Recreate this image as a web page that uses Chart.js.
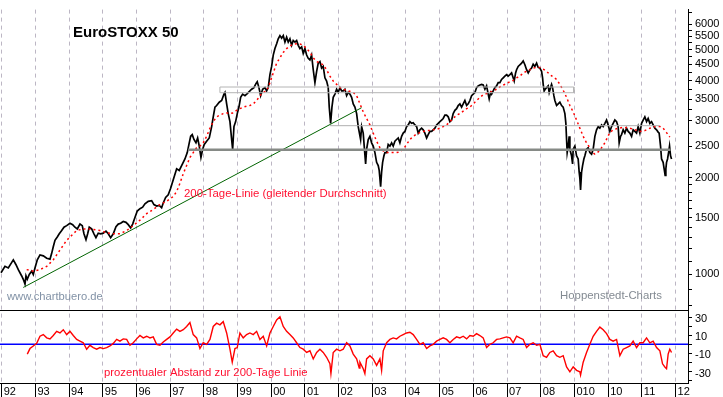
<!DOCTYPE html>
<html>
<head>
<meta charset="utf-8">
<title>EuroSTOXX 50</title>
<script src="https://cdn.jsdelivr.net/npm/chart.js@4.4.1/dist/chart.umd.min.js"></script>
<style>
  html, body { margin: 0; padding: 0; background: #fff; }
  #wrap { position: relative; width: 723px; height: 397px; }
</style>
</head>
<body>
<div id="wrap"><canvas id="chart"></canvas></div>
<script>
// --- data: [decimal year, value] ---
const pricePoints = [
  [1991.980,1012],[1992.098,1060],[1992.196,1048],[1992.345,1110],[1992.425,1072],[1992.493,1035],
  [1992.594,989],[1992.641,966],[1992.692,933],[1992.721,990],[1992.760,966],[1992.819,1000],
  [1992.891,1024],[1992.938,1000],[1992.988,1048],[1993.057,1110],[1993.137,1150],[1993.235,1142],
  [1993.336,1123],[1993.434,1116],[1993.484,1163],[1993.531,1219],[1993.582,1277],[1993.650,1307],
  [1993.709,1338],[1993.781,1369],[1993.849,1402],[1993.929,1418],[1994.027,1442],[1994.107,1428],
  [1994.175,1402],[1994.244,1385],[1994.324,1434],[1994.392,1418],[1994.442,1338],[1994.502,1283],
  [1994.552,1338],[1994.599,1402],[1994.671,1385],[1994.739,1338],[1994.798,1301],[1994.867,1344],
  [1994.938,1338],[1995.015,1344],[1995.095,1363],[1995.163,1338],[1995.234,1301],[1995.312,1338],
  [1995.392,1408],[1995.460,1434],[1995.531,1442],[1995.608,1461],[1995.689,1452],[1995.757,1428],
  [1995.828,1395],[1995.887,1434],[1995.955,1503],[1996.024,1574],[1996.104,1601],[1996.184,1618],
  [1996.252,1657],[1996.350,1688],[1996.451,1696],[1996.519,1649],[1996.599,1632],[1996.676,1640],
  [1996.747,1612],[1996.795,1668],[1996.866,1735],[1996.943,1768],[1997.015,1853],[1997.074,1941],
  [1997.193,2130],[1997.270,2105],[1997.341,2180],[1997.439,2285],[1997.508,2392],[1997.567,2565],
  [1997.609,2688],[1997.656,2720],[1997.707,2627],[1997.766,2565],[1997.816,2656],[1997.864,2506],
  [1997.914,2310],[1997.965,2449],[1998.012,2536],[1998.083,2596],[1998.161,2656],[1998.232,2882],
  [1998.279,3090],[1998.330,3313],[1998.380,3350],[1998.457,3431],[1998.529,3472],[1998.597,3635],
  [1998.627,3679],[1998.677,3390],[1998.724,3162],[1998.775,2985],[1998.825,2627],[1998.855,2449],
  [1998.894,2882],[1998.944,2985],[1998.992,3162],[1999.042,3313],[1999.092,3552],[1999.152,3635],
  [1999.220,3595],[1999.288,3650],[1999.368,3722],[1999.419,3764],[1999.487,3809],[1999.546,3917],
  [1999.585,3972],[1999.635,3809],[1999.686,3595],[1999.745,3764],[1999.814,3809],[1999.864,3722],
  [1999.911,3809],[1999.962,4180],[2000.012,4433],[2000.060,4807],[2000.110,5037],[2000.161,5215],
  [2000.208,5400],[2000.259,5526],[2000.309,5426],[2000.357,5526],[2000.407,5277],[2000.457,5464],
  [2000.505,5277],[2000.555,5400],[2000.606,5154],[2000.653,5337],[2000.704,5277],[2000.754,5337],
  [2000.802,5154],[2000.852,5037],[2000.903,5098],[2000.950,4864],[2001.000,5037],[2001.051,4807],
  [2001.098,4696],[2001.149,4641],[2001.199,4807],[2001.247,4328],[2001.297,3945],[2001.348,4280],
  [2001.395,4536],[2001.446,4590],[2001.496,4380],[2001.543,4433],[2001.594,4085],[2001.644,3992],
  [2001.692,3809],[2001.722,3313],[2001.763,2949],[2001.802,3313],[2001.840,3552],[2001.891,3635],
  [2001.941,3764],[2001.989,3679],[2002.039,3809],[2002.089,3722],[2002.137,3722],[2002.187,3764],
  [2002.238,3595],[2002.285,3679],[2002.336,3635],[2002.386,3552],[2002.434,3390],[2002.484,3313],
  [2002.535,3162],[2002.582,2882],[2002.653,2627],[2002.683,2882],[2002.730,2750],[2002.760,2506],
  [2002.802,2206],[2002.831,2449],[2002.879,2627],[2002.929,2688],[2002.980,2565],[2003.027,2506],
  [2003.078,2392],[2003.128,2231],[2003.176,2180],[2003.205,2105],[2003.247,1874],[2003.276,2080],
  [2003.306,2231],[2003.345,2338],[2003.374,2392],[2003.425,2392],[2003.472,2536],[2003.523,2506],
  [2003.573,2565],[2003.621,2506],[2003.671,2596],[2003.721,2627],[2003.769,2656],[2003.819,2565],
  [2003.870,2688],[2003.917,2750],[2003.968,2783],[2004.018,2882],[2004.066,2916],[2004.116,2985],
  [2004.167,2949],[2004.214,2963],[2004.265,2916],[2004.315,2882],[2004.362,2750],[2004.413,2816],
  [2004.463,2848],[2004.511,2816],[2004.561,2750],[2004.612,2656],[2004.659,2720],[2004.710,2783],
  [2004.760,2783],[2004.808,2816],[2004.858,2848],[2004.908,2916],[2004.956,2949],[2005.006,2985],
  [2005.057,3020],[2005.104,3053],[2005.155,3127],[2005.205,3127],[2005.253,3090],[2005.303,2985],
  [2005.354,3020],[2005.401,3162],[2005.451,3237],[2005.502,3275],[2005.549,3350],[2005.600,3390],
  [2005.650,3313],[2005.698,3390],[2005.748,3472],[2005.799,3350],[2005.846,3390],[2005.897,3472],
  [2005.947,3595],[2005.995,3635],[2006.045,3679],[2006.095,3809],[2006.143,3855],[2006.193,3880],
  [2006.244,3898],[2006.291,3880],[2006.342,3764],[2006.392,3855],[2006.440,3635],[2006.469,3511],
  [2006.511,3679],[2006.541,3635],[2006.588,3722],[2006.638,3809],[2006.689,3855],[2006.736,3945],
  [2006.787,3945],[2006.837,4038],[2006.885,4085],[2006.935,4134],[2006.986,4180],[2007.033,4134],
  [2007.084,4180],[2007.134,4230],[2007.181,4085],[2007.211,3992],[2007.253,4230],[2007.282,4328],
  [2007.330,4433],[2007.380,4485],[2007.431,4536],[2007.478,4610],[2007.529,4485],[2007.579,4328],
  [2007.627,4230],[2007.677,4328],[2007.727,4380],[2007.775,4505],[2007.825,4433],[2007.876,4536],
  [2007.923,4400],[2007.974,4380],[2008.024,4280],[2008.054,4085],[2008.072,3898],[2008.101,3722],
  [2008.131,3764],[2008.172,3809],[2008.220,3855],[2008.250,3679],[2008.291,3809],[2008.321,3898],
  [2008.351,3809],[2008.389,3595],[2008.419,3472],[2008.469,3350],[2008.517,3390],[2008.567,3431],
  [2008.618,3350],[2008.665,3313],[2008.716,3162],[2008.745,2949],[2008.766,2627],[2008.784,2392],
  [2008.814,2506],[2008.843,2688],[2008.864,2449],[2008.914,2338],[2008.944,2206],[2008.962,2449],
  [2009.012,2506],[2009.063,2338],[2009.110,2285],[2009.140,2080],[2009.161,1987],[2009.181,1832],
  [2009.211,2080],[2009.241,2180],[2009.279,2285],[2009.309,2338],[2009.359,2449],[2009.407,2477],
  [2009.457,2392],[2009.508,2365],[2009.555,2449],[2009.606,2688],[2009.656,2816],[2009.704,2882],
  [2009.754,2848],[2009.805,2916],[2009.852,2882],[2009.903,2949],[2009.953,3020],[2010.000,2916],
  [2010.051,2783],[2010.101,2882],[2010.149,2949],[2010.199,3020],[2010.250,2985],[2010.297,2882],
  [2010.327,2565],[2010.368,2688],[2010.398,2720],[2010.446,2816],[2010.496,2750],[2010.546,2848],
  [2010.594,2783],[2010.644,2750],[2010.695,2688],[2010.742,2816],[2010.793,2783],[2010.843,2750],
  [2010.891,2882],[2010.941,2750],[2010.992,2949],[2011.039,3020],[2011.089,3090],[2011.140,2985],
  [2011.187,3053],[2011.238,2949],[2011.288,2985],[2011.336,2916],[2011.386,2848],[2011.437,2816],
  [2011.484,2770],[2011.514,2750],[2011.555,2506],[2011.585,2285],[2011.632,2231],[2011.662,2130],
  [2011.692,2033],[2011.713,2130],[2011.733,2231],[2011.763,2285],[2011.793,2392],[2011.822,2506],
  [2011.852,2338],[2011.882,2285]
];

// 200-Tage-Linie
const avgPoints = [
  [1992.742,1035],[1992.938,1024],[1993.137,1035],[1993.336,1060],[1993.531,1110],[1993.730,1191],
  [1993.929,1277],[1994.125,1338],[1994.226,1369],[1994.422,1385],[1994.620,1385],[1994.917,1369],
  [1995.116,1347],[1995.312,1338],[1995.510,1338],[1995.709,1369],[1995.905,1418],[1996.104,1475],
  [1996.303,1545],[1996.498,1592],[1996.697,1649],[1996.896,1688],[1997.092,1747],[1997.193,1810],
  [1997.291,1920],[1997.389,2057],[1997.489,2180],[1997.587,2310],[1997.685,2392],[1997.786,2477],
  [1997.884,2506],[1997.982,2565],[1998.083,2688],[1998.181,2848],[1998.279,2985],[1998.380,3090],
  [1998.477,3127],[1998.575,3162],[1998.677,3177],[1998.775,3162],[1998.872,3177],[1998.973,3237],
  [1999.071,3275],[1999.169,3313],[1999.270,3336],[1999.368,3350],[1999.466,3390],[1999.567,3472],
  [1999.665,3595],[1999.763,3679],[1999.864,3722],[1999.962,3945],[2000.060,4230],[2000.161,4536],
  [2000.259,4715],[2000.357,4900],[2000.457,5037],[2000.555,5130],[2000.653,5190],[2000.754,5215],
  [2000.852,5205],[2000.950,5154],[2001.051,5037],[2001.149,4900],[2001.247,4715],[2001.348,4590],
  [2001.446,4536],[2001.543,4485],[2001.644,4328],[2001.742,4134],[2001.840,3992],[2001.941,3898],
  [2002.039,3809],[2002.137,3764],[2002.238,3735],[2002.434,3679],[2002.535,3595],[2002.633,3390],
  [2002.731,3200],[2002.831,3053],[2002.929,2916],[2003.027,2750],[2003.128,2596],[2003.226,2477],
  [2003.324,2420],[2003.425,2392],[2003.523,2392],[2003.621,2392],[2003.721,2392],[2003.819,2403],
  [2003.917,2449],[2004.018,2536],[2004.116,2627],[2004.214,2688],[2004.315,2730],[2004.413,2760],
  [2004.511,2783],[2004.612,2800],[2004.710,2800],[2004.808,2816],[2004.908,2826],[2005.006,2848],
  [2005.104,2882],[2005.205,2916],[2005.303,2985],[2005.401,3053],[2005.502,3127],[2005.600,3162],
  [2005.698,3218],[2005.799,3275],[2005.897,3313],[2005.995,3390],[2006.095,3472],[2006.193,3552],
  [2006.291,3617],[2006.392,3650],[2006.490,3679],[2006.588,3722],[2006.689,3764],[2006.787,3828],
  [2006.885,3880],[2006.986,3917],[2007.084,3972],[2007.181,4010],[2007.282,4085],[2007.380,4134],
  [2007.478,4230],[2007.579,4280],[2007.677,4328],[2007.775,4380],[2007.876,4400],[2007.974,4400],
  [2008.072,4350],[2008.172,4280],[2008.270,4180],[2008.469,4038],[2008.567,3898],[2008.665,3738],
  [2008.766,3552],[2008.864,3350],[2008.962,3200],[2009.063,3020],[2009.161,2848],[2009.259,2688],
  [2009.359,2565],[2009.436,2495],[2009.508,2403],[2009.606,2365],[2009.704,2403],[2009.805,2477],
  [2009.903,2565],[2009.971,2656],[2010.051,2760],[2010.149,2816],[2010.297,2848],[2010.446,2865],
  [2010.644,2848],[2010.793,2816],[2010.941,2783],[2011.089,2800],[2011.238,2848],[2011.386,2882],
  [2011.535,2882],[2011.632,2848],[2011.733,2760],[2011.830,2672]
];

// prozentualer Abstand zur 200-Tage-Linie
const gapPoints = [
  [1992.760,-10.8],[1992.840,-4.7],[1992.938,-1.8],[1993.039,1.0],[1993.137,8.9],[1993.235,10.7],
  [1993.336,7.1],[1993.434,6.0],[1993.531,9.7],[1993.632,14.3],[1993.730,12.5],[1993.828,16.1],
  [1993.929,10.7],[1994.027,14.3],[1994.125,9.7],[1994.226,5.4],[1994.324,3.5],[1994.422,1.7],
  [1994.522,-5.4],[1994.620,-1.1],[1994.718,-3.6],[1994.819,-5.4],[1994.917,-3.6],[1995.015,-4.7],
  [1995.116,-3.6],[1995.214,-1.8],[1995.312,1.0],[1995.413,5.4],[1995.510,3.5],[1995.608,6.0],
  [1995.709,5.4],[1995.807,-1.1],[1995.905,1.7],[1996.006,6.0],[1996.104,9.7],[1996.202,7.1],
  [1996.303,8.9],[1996.401,7.1],[1996.498,8.2],[1996.599,0],[1996.697,-1.1],[1996.795,2.5],
  [1996.896,5.4],[1996.994,8.2],[1997.092,12.5],[1997.193,16.8],[1997.291,14.3],[1997.389,16.1],
  [1997.489,19.7],[1997.587,24.0],[1997.685,10.7],[1997.786,7.1],[1997.884,-4.7],[1997.982,1.7],
  [1998.083,0],[1998.181,5.4],[1998.279,19.7],[1998.380,23.3],[1998.477,21.5],[1998.575,25.0],
  [1998.677,12.5],[1998.775,-5.4],[1998.843,-19.7],[1998.923,-4.7],[1998.992,-3.6],[1999.071,12.5],
  [1999.169,7.1],[1999.270,10.7],[1999.368,12.5],[1999.466,10.7],[1999.567,14.3],[1999.665,5.4],
  [1999.763,8.9],[1999.864,-1.8],[1999.962,12.5],[2000.060,19.7],[2000.161,26.9],[2000.259,30.4],
  [2000.357,19.7],[2000.457,14.3],[2000.555,10.7],[2000.653,7.1],[2000.754,1.7],[2000.852,-3.6],
  [2000.950,-5.4],[2001.051,-9.0],[2001.149,-7.2],[2001.247,-16.1],[2001.348,-9.0],[2001.446,-5.4],
  [2001.543,-9.0],[2001.644,-14.3],[2001.742,-21.5],[2001.772,-32.3],[2001.840,-9.0],[2001.941,-5.4],
  [2002.039,-7.2],[2002.137,-5.4],[2002.238,1.7],[2002.336,-1.8],[2002.434,-10.8],[2002.535,-16.1],
  [2002.612,-26.2],[2002.633,-19.7],[2002.731,-26.9],[2002.780,-32.3],[2002.831,-16.1],[2002.929,-12.5],
  [2003.027,-16.1],[2003.128,-23.3],[2003.226,-16.1],[2003.276,-28.7],[2003.324,-7.2],[2003.425,1.7],
  [2003.523,5.4],[2003.621,7.1],[2003.721,6.0],[2003.819,8.9],[2003.917,10.7],[2004.018,12.5],
  [2004.116,13.3],[2004.214,10.7],[2004.315,5.4],[2004.413,0],[2004.511,1.7],[2004.612,-4.7],
  [2004.710,-1.8],[2004.808,0],[2004.908,3.5],[2005.006,5.4],[2005.104,7.1],[2005.205,5.4],
  [2005.303,1.7],[2005.401,5.4],[2005.502,8.2],[2005.600,7.1],[2005.698,8.9],[2005.799,6.0],
  [2005.897,9.7],[2005.995,8.9],[2006.095,11.8],[2006.193,9.7],[2006.291,7.1],[2006.392,-3.6],
  [2006.490,0],[2006.588,1.7],[2006.689,5.4],[2006.787,6.0],[2006.885,7.1],[2006.986,8.2],
  [2007.084,7.1],[2007.181,1.7],[2007.282,8.9],[2007.380,7.1],[2007.478,5.4],[2007.579,-3.6],
  [2007.677,0],[2007.775,1.7],[2007.876,-1.1],[2007.974,0],[2008.072,-12.5],[2008.172,-14.3],
  [2008.270,-9.0],[2008.368,-7.2],[2008.469,-12.5],[2008.567,-14.3],[2008.665,-12.5],[2008.766,-25.0],
  [2008.864,-30.4],[2008.962,-25.0],[2009.063,-28.7],[2009.161,-30.4],[2009.181,-34.0],[2009.259,-19.7],
  [2009.359,-9.0],[2009.457,0],[2009.555,8.9],[2009.656,14.3],[2009.754,19.0],[2009.852,16.1],
  [2009.953,11.8],[2010.051,5.4],[2010.149,3.5],[2010.250,5.4],[2010.348,-12.5],[2010.446,-5.4],
  [2010.546,-3.6],[2010.644,-1.8],[2010.742,3.5],[2010.843,-3.6],[2010.941,1.7],[2011.039,1.7],
  [2011.140,7.1],[2011.238,1.7],[2011.336,3.5],[2011.437,-3.6],[2011.535,-7.2],[2011.614,-21.5],
  [2011.683,-25.0],[2011.733,-26.9],[2011.781,-10.8],[2011.830,-5.4],[2011.882,-9.0]
];

// drawn-in support/resistance marks
const supportLine = [[1997.537, 2441], [2011.850, 2441]];
const middleLine = [[2001.741, 2900], [2011.532, 2900]];
const zoneBox = [[1998.477, 3825], [2008.981, 3825], [2008.981, 3672], [1998.477, 3672], [1998.477, 3825]];
const trendLine = [[1992.640, 911], [2002.680, 3297]];

// axes
const yearTicks = [1992,1993,1994,1995,1996,1997,1998,1999,2000,2001,2002,2003,2004,2005,2006,2007,2008,2009,2010,2011,2012];
const yearLabels = ['92','93','94','95','96','97','98','99','00','01','02','03','04','05','06','07','08','010','10','11','12'];
const priceTicks = [800,900,1000,1100,1200,1300,1400,1500,1600,1700,1800,1900,2000,2250,2500,2750,3000,3250,3500,3750,4000,4250,4500,4750,5000,5250,5500,5750,6000,6500];
const priceLabels = [1000,1500,2000,2500,3000,3500,4000,4500,5000,5500,6000];
const gapTicks = [-40,-30,-20,-10,0,10,20,30];
const gapLabels = [30,10,-10,-30];

const FONT = "'Liberation Sans', Arial, sans-serif";

const notes = [
  { text: 'EuroSTOXX 50', x: 73, y: 33, font: 'bold 15px ' + FONT, color: '#000' },
  { text: '200-Tage-Linie (gleitender Durchschnitt)', x: 184, y: 194, font: '11.4px ' + FONT, color: '#ff1030' },
  { text: 'www.chartbuero.de', x: 7, y: 297, font: '11.2px ' + FONT, color: '#8292a6' },
  { text: 'Hoppenstedt-Charts', x: 560, y: 296, font: '11.4px ' + FONT, color: '#838a92' },
  { text: 'prozentualer Abstand zur 200-Tage Linie', x: 104, y: 373, font: '11.3px ' + FONT, color: '#ff1030' }
];

const toXY = pts => pts.map(p => ({ x: p[0], y: p[1] }));

const overlay = {
  id: 'overlay',
  afterDraw(chart) {
    const { ctx, chartArea } = chart;
    const sep = Math.round(chart.scales.y2.top) + 0.5;
    ctx.save();
    ctx.strokeStyle = '#000';
    ctx.lineWidth = 1;
    ctx.beginPath();
    ctx.moveTo(chartArea.left, sep);
    ctx.lineTo(chartArea.right, sep);
    ctx.stroke();
    ctx.textBaseline = 'middle';
    notes.forEach(n => {
      ctx.font = n.font;
      ctx.fillStyle = n.color;
      ctx.fillText(n.text, n.x, n.y);
    });
    ctx.restore();
  }
};

const line = (data, color, width, axis, dash) => ({
  data: toXY(data),
  yAxisID: axis,
  borderColor: color,
  borderWidth: width,
  borderDash: dash || [],
  pointRadius: 0,
  tension: 0,
  fill: false
});

new Chart(document.getElementById('chart'), {
  type: 'line',
  data: {
    datasets: [
      line(supportLine, '#868a86', 2.5, 'y'),
      line(middleLine, '#b0b0b0', 1, 'y'),
      line(zoneBox, '#b4b4b4', 1, 'y'),
      line(trendLine, '#006400', 1, 'y'),
      line(avgPoints, '#ff0000', 1.5, 'y', [2, 3]),
      line(pricePoints, '#000', 1.7, 'y'),
      line(gapPoints, '#ff0000', 1.4, 'y2'),
      line([[1991.95, 0], [2012.37, 0]], '#0000ff', 1.5, 'y2')
    ]
  },
  options: {
    responsive: true,
    maintainAspectRatio: false,
    animation: false,
    events: [],
    layout: { padding: 0 },
    plugins: { legend: { display: false }, tooltip: { enabled: false } },
    scales: {
      x: {
        type: 'linear',
        min: 1991.95,
        max: 2012.37,
        afterBuildTicks: s => { s.ticks = yearTicks.map(v => ({ value: v })); },
        afterFit: s => { s.height = 14; },
        grid: { color: '#bcb6c4', lineWidth: 1, tickLength: 14, tickColor: '#000', tickBorderDash: [] },
        border: { display: true, color: '#000', dash: [4, 4] },
        ticks: {
          autoSkip: false, maxRotation: 0, align: 'start', labelOffset: 2, padding: -12,
          color: '#000', font: { family: FONT, size: 11 },
          callback: (v, i) => yearLabels[i]
        }
      },
      y: {
        type: 'logarithmic',
        position: 'right',
        stack: 'panels',
        stackWeight: 308,
        min: 776,
        max: 6656,
        bounds: 'data',
        afterBuildTicks: s => { s.ticks = priceTicks.map(v => ({ value: v })); },
        afterFit: s => { s.width = 35; },
        grid: { drawOnChartArea: false, tickLength: 4, color: '#000' },
        border: { color: '#000' },
        ticks: {
          autoSkip: false, padding: 3, color: '#000', font: { family: FONT, size: 11 },
          callback: v => priceLabels.includes(v) ? String(v) : ''
        }
      },
      y2: {
        type: 'linear',
        position: 'right',
        stack: 'panels',
        stackWeight: 75,
        min: -42.7,
        max: 38,
        bounds: 'data',
        afterBuildTicks: s => { s.ticks = gapTicks.map(v => ({ value: v })); },
        afterFit: s => { s.width = 35; },
        grid: { drawOnChartArea: false, tickLength: 4, color: '#000' },
        border: { color: '#000' },
        ticks: {
          autoSkip: false, padding: 3, labelOffset: 2, color: '#000', font: { family: FONT, size: 11 },
          callback: v => gapLabels.includes(v) ? String(v) : ''
        }
      }
    }
  },
  plugins: [overlay]
});
</script>
</body>
</html>
